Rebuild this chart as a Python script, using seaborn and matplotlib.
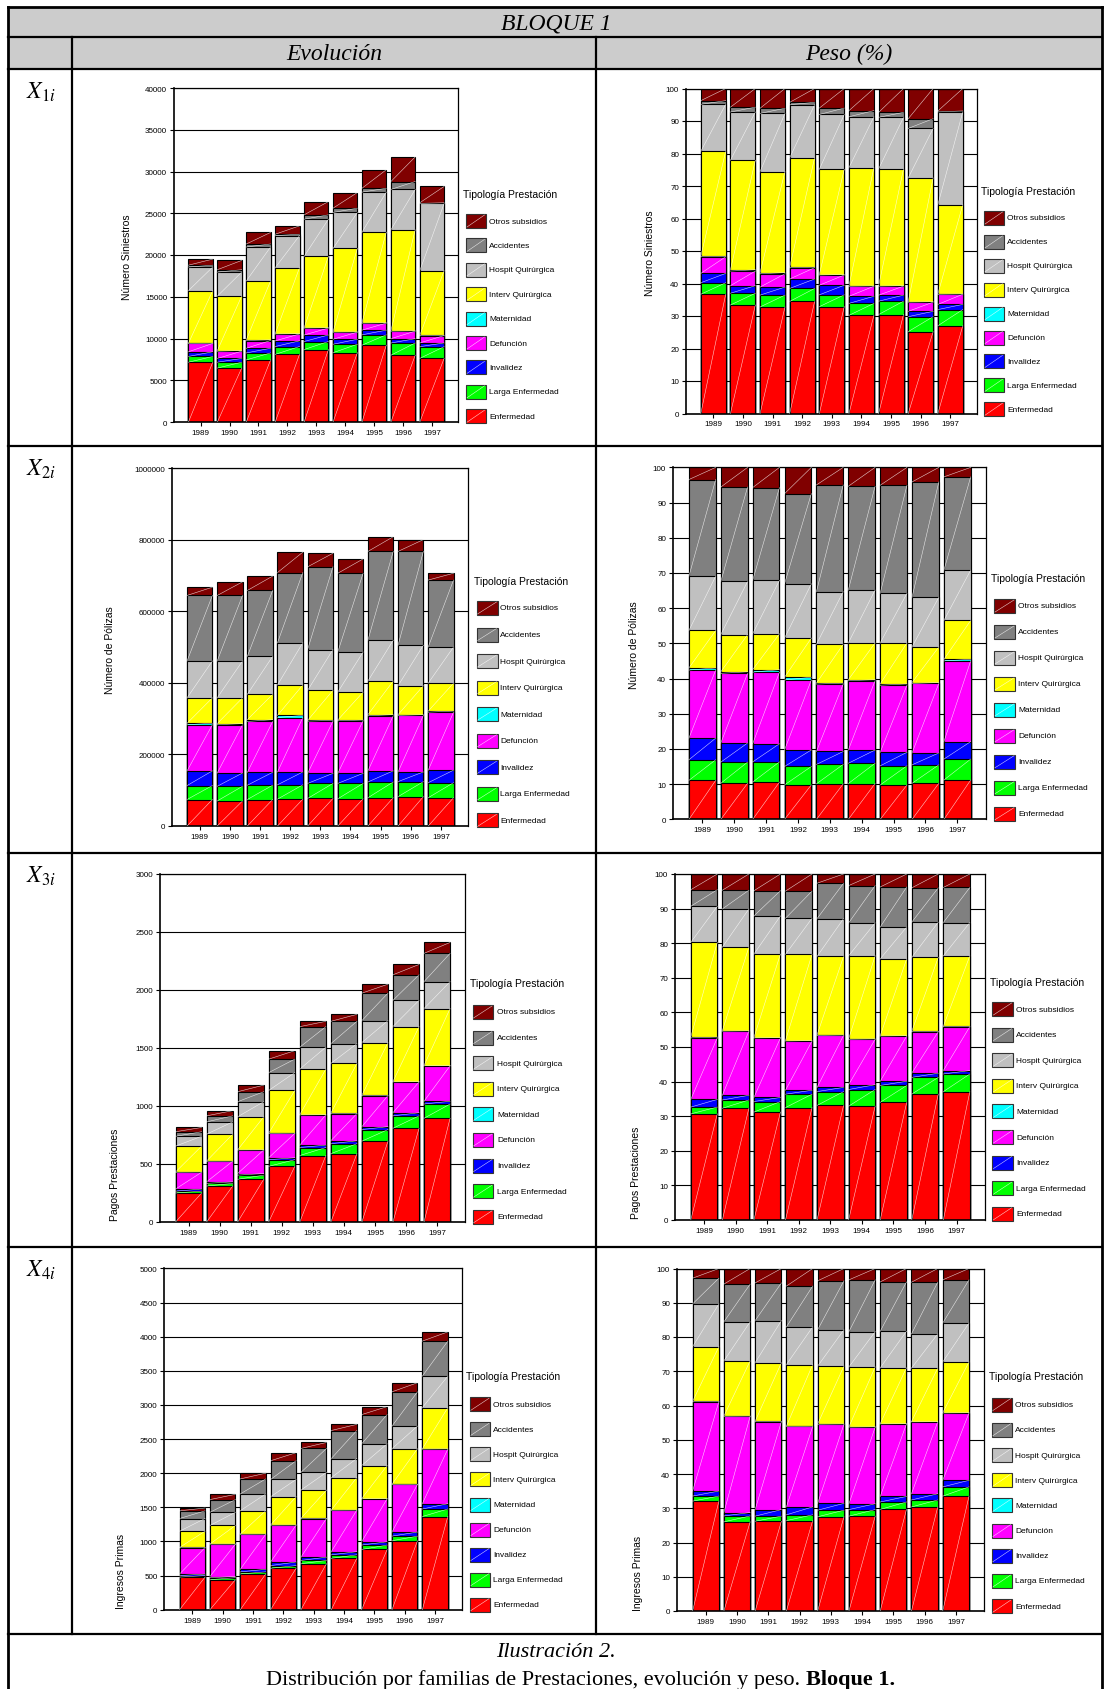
import numpy as np
import pandas as pd
import matplotlib
matplotlib.use('Agg')
import matplotlib.pyplot as plt
from matplotlib.lines import Line2D
from matplotlib.patches import Rectangle
import seaborn as sns

anios = ['1989', '1990', '1991', '1992', '1993', '1994', '1995', '1996', '1997']
categorias = ['Enfermedad', 'Larga Enfermedad', 'Invalidez', 'Defunción', 'Maternidad',
              'Interv Quirúrgica', 'Hospit Quirúrgica', 'Accidentes', 'Otros subsidios']
colores = ['#ff0000', '#00ff00', '#0000ff', '#ff00ff', '#00ffff',
           '#ffff00', '#c0c0c0', '#808080', '#800000']

# X1i - numero de siniestros (una fila por categoria, en el orden de 'categorias')
siniestros = [
    [7160, 6460, 7440, 8100, 8680, 8300, 9200, 8000, 7620],
    [690, 700, 830, 940, 960, 1010, 1240, 1460, 1400],
    [560, 450, 560, 680, 780, 600, 560, 520, 450],
    [1000, 870, 930, 820, 830, 850, 840, 900, 880],
    [30, 80, 80, 40, 40, 30, 40, 40, 30],
    [6300, 6520, 7060, 7900, 8550, 10000, 10850, 12100, 7750],
    [2820, 2870, 4060, 3840, 4450, 4300, 4800, 4830, 8050],
    [220, 290, 360, 170, 520, 520, 460, 950, 80],
    [730, 1110, 1380, 1000, 1590, 1870, 2220, 2950, 1950],
]

# X2i - numero de polizas
polizas = [
    [74000, 70000, 74000, 75000, 77000, 76000, 79000, 82000, 79000],
    [39000, 41000, 40000, 40000, 42000, 43000, 44000, 42000, 42000],
    [41000, 37000, 36000, 36000, 28000, 28000, 31000, 27000, 35000],
    [129000, 135000, 142000, 152000, 146000, 147000, 154000, 158000, 162000],
    [4000, 3000, 5000, 6000, 2000, 2000, 3000, 2000, 3000],
    [71000, 72000, 71000, 85000, 84000, 78000, 94000, 81000, 78000],
    [103000, 103000, 106000, 118000, 114000, 112000, 114000, 113000, 101000],
    [183000, 183000, 184000, 196000, 231000, 220000, 248000, 262000, 187000],
    [23000, 38000, 40000, 57000, 38000, 40000, 41000, 33000, 19000],
]

# X3i - pagos prestaciones
pagos = [
    [250, 310, 368, 480, 573, 589, 697, 808, 894],
    [16, 23, 36, 57, 69, 86, 100, 107, 123],
    [18, 13, 14, 17, 21, 25, 25, 27, 24],
    [145, 178, 203, 210, 260, 235, 268, 266, 306],
    [2, 1, 1, 2, 2, 2, 2, 2, 2],
    [223, 232, 285, 368, 393, 430, 455, 475, 491],
    [85, 106, 130, 154, 189, 170, 189, 226, 232],
    [39, 52, 86, 116, 177, 193, 237, 220, 244],
    [37, 45, 57, 73, 46, 60, 77, 89, 94],
]

# X4i - ingresos primas
primas = [
    [478, 440, 524, 607, 674, 752, 882, 1010, 1365],
    [22, 29, 30, 39, 47, 52, 65, 68, 110],
    [22, 17, 38, 53, 49, 46, 48, 60, 78],
    [389, 475, 514, 540, 566, 608, 630, 698, 800],
    [1, 1, 2, 2, 2, 2, 2, 2, 3],
    [238, 272, 342, 414, 414, 475, 485, 520, 604],
    [186, 193, 246, 253, 260, 280, 318, 332, 462],
    [112, 186, 220, 274, 350, 410, 428, 502, 513],
    [42, 77, 84, 118, 88, 90, 117, 133, 135],
]

W, H = 1104, 1690
plt.rcParams['font.family'] = ['Liberation Sans', 'DejaVu Sans']
plt.rcParams['mathtext.fontset'] = 'stix'
fig = plt.figure(figsize=(W / 100, H / 100), dpi=100)


def fx(x):
    return x / W


def fy(y):
    return 1 - y / H


def linea(x0, y0, x1, y1, lw):
    fig.add_artist(Line2D([fx(x0), fx(x1)], [fy(y0), fy(y1)], color='black', lw=lw,
                          solid_capstyle='projecting'))


# tabla
fig.add_artist(Rectangle((fx(8), fy(70)), fx(1102) - fx(8), (70 - 8) / H,
                         transform=fig.transFigure, facecolor='#cccccc', edgecolor='none', zorder=0))
linea(8, 8, 1102, 8, 2)
linea(8, 8, 8, H, 2)
linea(1102, 8, 1102, H, 2)
for yy in [38, 70, 447, 854, 1248, 1635]:
    linea(8, yy, 1102, yy, 1.6)
linea(72, 38, 72, 1635, 1.6)
linea(596, 38, 596, 1635, 1.6)

serif = ['Liberation Serif', 'DejaVu Serif']
fig.text(fx(556), fy(24), 'BLOQUE 1', family=serif, style='italic', fontsize=17, ha='center', va='center')
fig.text(fx(334), fy(54), 'Evolución', family=serif, style='italic', fontsize=17, ha='center', va='center')
fig.text(fx(849), fy(54), 'Peso (%)', family=serif, style='italic', fontsize=17, ha='center', va='center')
for n, yy in zip([1, 2, 3, 4], [92, 469, 876, 1270]):
    fig.text(fx(26), fy(yy), r'$X_{%di}$' % n, fontsize=17, ha='left', va='center')

fig.text(fx(556), fy(1653), 'Ilustración 2.', family=serif, style='italic', fontsize=16,
         ha='center', va='center')
fig.text(fx(806), fy(1680), 'Distribución por familias de Prestaciones, evolución y peso. ',
         family=serif, fontsize=16, ha='right', va='center')
fig.text(fx(806), fy(1680), 'Bloque 1.', family=serif, fontsize=16, weight='bold',
         ha='left', va='center')


def apilado(ax, valores, porcentaje):
    df = pd.DataFrame(valores, index=categorias, columns=anios)
    if porcentaje:
        df = df / df.sum(axis=0) * 100
    acum = df.cumsum(axis=0)
    base = acum.shift(1, axis=0, fill_value=0)
    ancho = 0.84
    for k in range(len(categorias) - 1, -1, -1):
        sns.barplot(x=anios, y=acum.iloc[k].values, color=colores[k], saturation=1,
                    width=ancho, edgecolor='black', linewidth=0.8, errorbar=None,
                    ax=ax, zorder=2)
    # linea diagonal blanca en cada tramo
    for k in range(len(categorias)):
        xs, ys = [], []
        for i in range(len(anios)):
            xs += [i - ancho / 2, i + ancho / 2, np.nan]
            ys += [base.iloc[k, i], acum.iloc[k, i], np.nan]
        ax.plot(xs, ys, color='white', lw=0.4, alpha=0.8, zorder=3)


def leyenda(xt, yt, y0, paso, xp, wp, xtx):
    fig.text(fx(xt), fy(yt), 'Tipología Prestación', fontsize=7.5, ha='left', va='center')
    for j, k in enumerate(range(len(categorias) - 1, -1, -1)):
        yc = y0 + j * paso
        fig.add_artist(Rectangle((fx(xp), fy(yc + 7)), wp / W, 14 / H, transform=fig.transFigure,
                                 facecolor=colores[k], edgecolor='#333333', lw=0.8))
        fig.add_artist(Line2D([fx(xp + 1), fx(xp + wp - 1)], [fy(yc + 6), fy(yc - 6)],
                              color='white', lw=0.4, alpha=0.8))
        fig.text(fx(xtx), fy(yc), categorias[k], fontsize=6, ha='left', va='center')


graficos = [
    # datos, porcentaje, ymax, paso, etiqueta, caja (l, t, r, b), pos etiqueta, leyenda
    (siniestros, False, 40000, 5000, 'Número Siniestros', (174, 89, 458, 423), (127, 257),
     (463, 195, 222, 24.4, 466, 19.5, 489)),
    (siniestros, True, 100, 10, 'Número Siniestros', (686, 89.5, 977, 414.5), (650, 253),
     (981, 191.6, 219, 23.9, 984, 19.5, 1007)),
    (polizas, False, 1000000, 200000, 'Número de Pólizas', (172, 469, 468, 827), (110, 650),
     (473.5, 582, 609, 26.55, 476.5, 21, 500)),
    (polizas, True, 100, 10, 'Número de Pólizas', (673, 468.4, 986, 820.4), (634, 645),
     (991.4, 579, 607, 25.96, 994, 21, 1018)),
    (pagos, False, 3000, 500, 'Pagos Prestaciones', (160, 875, 465, 1223), (115, 1175),
     (470, 984, 1013, 25.6, 472.5, 20.5, 497)),
    (pagos, True, 100, 10, 'Pagos Prestaciones', (675, 875, 985, 1221), (636, 1173),
     (989.7, 983.4, 1010, 25.6, 992.4, 20.2, 1016)),
    (primas, False, 5000, 500, 'Ingresos Primas', (164.4, 1269.4, 462.4, 1610.7), (121.5, 1571),
     (465.8, 1376.8, 1405.3, 25.05, 469.8, 20.2, 493)),
    (primas, True, 100, 10, 'Ingresos Primas', (677, 1269.5, 984, 1612), (638, 1573),
     (989, 1377, 1405.6, 25.2, 991.8, 19.8, 1015)),
]

for datos, pct, ymax, paso, etiqueta, caja, pos, ley in graficos:
    l, t, r, b = caja
    ax = fig.add_axes([fx(l), fy(b), (r - l) / W, (b - t) / H])
    apilado(ax, datos, pct)
    ax.set_ylim(0, ymax)
    ax.set_yticks(np.arange(0, ymax + paso, paso))
    ax.set_xlim(-0.92, 8.9)
    ax.ticklabel_format(axis='y', style='plain')
    ax.yaxis.grid(True, color='black', lw=0.8)
    ax.set_axisbelow(True)
    ax.set_xlabel('')
    ax.set_ylabel('')
    ax.tick_params(axis='both', direction='out', length=3, width=0.8, labelsize=5.8, pad=2)
    for lado, s in ax.spines.items():
        s.set_color('black')
        s.set_linewidth(1.2 if lado in ('left', 'bottom') else 0.9)
    fig.text(fx(pos[0]), fy(pos[1]), etiqueta, fontsize=7.5, rotation=90, ha='center', va='center')
    leyenda(*ley)

fig.savefig('out.png', dpi=100)
